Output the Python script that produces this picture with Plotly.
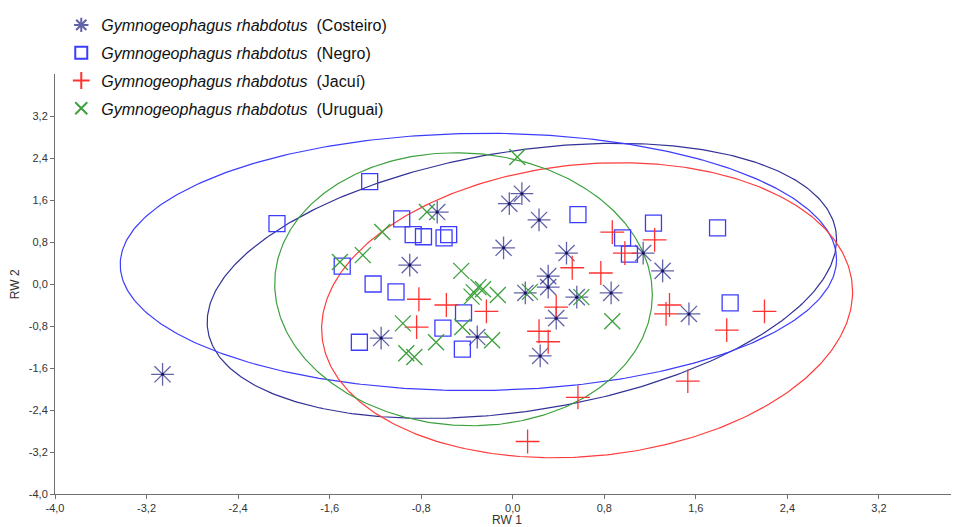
import numpy as np
import plotly.graph_objects as go

species = "Gymnogeophagus rhabdotus"
groups = ["Costeiro", "Negro", "Jacuí", "Uruguai"]

# RW1 / RW2 scores
costeiro_x = [-3.06, -1.15, -0.90, -0.66, -0.31, -0.08, -0.03, 0.08, 0.23, 0.11,
              0.31, 0.31, 0.38, 0.24, 0.47, 0.56, 0.86, 1.14, 1.31, 1.54]
costeiro_y = [-1.72, -1.03, 0.36, 1.37, -1.01, 0.69, 1.53, 1.72, 1.22, -0.17,
              0.15, -0.06, -0.65, -1.37, 0.59, -0.25, -0.17, 0.59, 0.25, -0.57]

negro_x = [-2.06, -1.25, -1.49, -1.22, -1.02, -0.97, -0.87, -0.78, -0.60, -0.56,
           -1.34, -0.61, -0.43, -0.44, 0.57, 0.96, 1.02, 1.23, 1.79, 1.90]
negro_y = [1.15, 1.95, 0.34, 0.00, -0.15, 1.24, 0.94, 0.90, 0.88, 0.94,
           -1.11, -0.84, -0.55, -1.24, 1.32, 0.88, 0.57, 1.16, 1.07, -0.36]

jacui_x = [-0.82, -0.58, -0.84, -0.23, 0.52, 0.77, 0.38, 0.23, 0.31, 0.57,
           0.87, 0.98, 1.24, 1.37, 1.34, 2.20, 1.87, 1.53, 0.13]
jacui_y = [-0.29, -0.40, -0.82, -0.52, 0.31, 0.21, -0.44, -0.90, -1.10, -2.16,
           0.99, 0.59, 0.84, -0.40, -0.57, -0.52, -0.88, -1.85, -3.00]

uruguai_x = [-1.51, -1.31, -1.14, -0.75, -0.45, -0.34, -0.30, -0.26, -0.36, -0.13,
             -0.96, -0.67, -0.93, -0.86, -0.44, -0.18, 0.15, 0.60, 0.87, 0.04]
uruguai_y = [0.42, 0.55, 0.99, 1.37, 0.25, -0.16, -0.06, -0.10, -0.24, -0.21,
             -0.75, -1.11, -1.32, -1.39, -0.82, -1.07, -0.15, -0.25, -0.71, 2.42]

# Ellipse parameters (Costeiro, Negro, Jacuí, Uruguai): centre, half-extent in x / y, correlation
ell_cx = [0.08, -0.30, 0.65, -0.43]
ell_cy = [0.06, 0.42, -0.50, -0.10]
ell_sx = [2.75, 3.13, 2.32, 1.65]
ell_sy = [2.62, 2.45, 2.81, 2.60]
ell_r = [0.30, 0.02, 0.125, -0.04]

x_tick_vals = [-4.0, -3.2, -2.4, -1.6, -0.8, 0.0, 0.8, 1.6, 2.4, 3.2]
x_tick_text = ["-4,0", "-3,2", "-2,4", "-1,6", "-0,8", "0,0", "0,8", "1,6", "2,4", "3,2"]
y_tick_vals = [-4.0, -3.2, -2.4, -1.6, -0.8, 0.0, 0.8, 1.6, 2.4, 3.2]
y_tick_text = ["-4,0", "-3,2", "-2,4", "-1,6", "-0,8", "0,0", "0,8", "1,6", "2,4", "3,2"]

marker_colors = ["rgba(45,45,140,0.75)", "rgb(60,60,255)", "rgb(255,50,50)", "rgb(60,160,60)"]
ellipse_colors = ["rgb(50,50,150)", "rgb(60,60,255)", "rgb(255,60,60)", "rgb(60,160,60)"]
symbols = ["asterisk-open", "square-open", "cross-thin-open", "x-thin-open"]
sizes = [19, 16, 17, 16]

xs = [costeiro_x, negro_x, jacui_x, uruguai_x]
ys = [costeiro_y, negro_y, jacui_y, uruguai_y]

fig = go.Figure()

t = np.linspace(0, 2 * np.pi, 400)
for i in range(4):
    ex = ell_cx[i] + ell_sx[i] * np.cos(t)
    ey = ell_cy[i] + ell_sy[i] * (ell_r[i] * np.cos(t) + np.sqrt(1 - ell_r[i] ** 2) * np.sin(t))
    fig.add_trace(go.Scatter(x=ex, y=ey, mode="lines",
                             line=dict(color=ellipse_colors[i], width=1.2),
                             showlegend=False, hoverinfo="skip"))

for i in range(4):
    fig.add_trace(go.Scatter(
        x=xs[i], y=ys[i], mode="markers",
        name="<i>%s</i>  (%s)" % (species, groups[i]),
        legendgroup=groups[i],
        marker=dict(symbol=symbols[i], size=sizes[i], color=marker_colors[i],
                    line=dict(color=marker_colors[i], width=1.3)),
    ))

# small centre dots of the asterisks
fig.add_trace(go.Scatter(x=costeiro_x, y=costeiro_y, mode="markers",
                         marker=dict(symbol="circle", size=3, color="rgb(20,20,90)"),
                         showlegend=False, hoverinfo="skip"))

axis_common = dict(showgrid=False, zeroline=False, showline=True, linecolor="#707070",
                   linewidth=1, ticks="outside", ticklen=4, tickcolor="#707070",
                   tickfont=dict(family="Liberation Sans, Arial", size=11, color="#333333"),
                   mirror=False)

title_font = dict(family="Liberation Sans, Arial", size=12, color="#333333")

fig.update_xaxes(range=[-4, 3.9], tickvals=x_tick_vals, ticktext=x_tick_text,
                 title=dict(text="RW 1", font=title_font, standoff=0),
                 **axis_common)
fig.update_yaxes(range=[-4, 4], tickvals=y_tick_vals, ticktext=y_tick_text,
                 **axis_common)

# the page adds an 8 px body margin, so the figure is drawn 8 px smaller than the window
fig.update_layout(
    width=951, height=519,
    margin=dict(l=47, r=0, t=66, b=33, autoexpand=False),
    paper_bgcolor="white", plot_bgcolor="white",
    showlegend=True,
    legend=dict(xref="container", yref="container", x=0.056, y=1.014,
                xanchor="left", yanchor="top", itemsizing="constant",
                bgcolor="rgba(0,0,0,0)", tracegroupgap=4,
                font=dict(family="Liberation Sans, Arial", size=16, color="#111111")),
    annotations=[dict(text="RW 2", xref="paper", yref="paper", x=-0.044, y=0.5,
                      xanchor="center", yanchor="middle", textangle=-90,
                      showarrow=False, font=title_font)],
)

fig.write_html("out.html")
